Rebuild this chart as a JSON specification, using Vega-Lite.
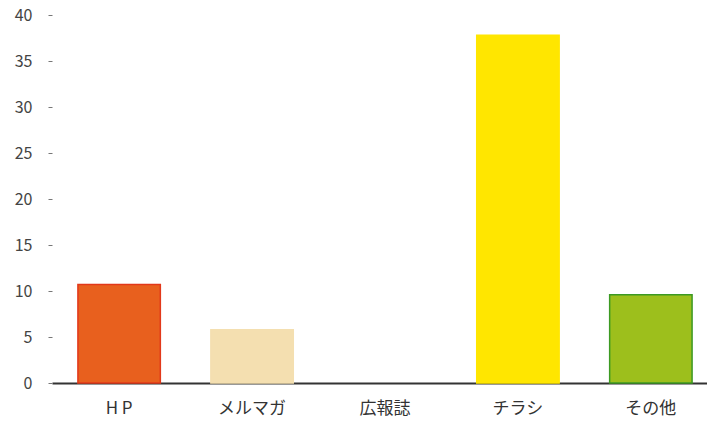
{
  "$schema": "https://vega.github.io/schema/vega-lite/v6.json",
  "autosize": {"type": "none"},
  "padding": {"left": 52, "top": 15, "right": 0, "bottom": 39},
  "width": 655,
  "height": 368,
  "background": "#ffffff",
  "config": {"view": {"stroke": null}, "font": "Noto Sans CJK JP"},
  "data": {"values": [
    {"category": "H P", "value": 10.7, "color": "#e8601e", "border": "#e2381a"},
    {"category": "メルマガ", "value": 5.8, "color": "#f4dfb0", "border": "#f4dfb0"},
    {"category": "広報誌", "value": 0, "color": "transparent", "border": "transparent"},
    {"category": "チラシ", "value": 37.8, "color": "#ffe600", "border": "#ffe600"},
    {"category": "その他", "value": 9.6, "color": "#9dbf1c", "border": "#3c9a22"}
  ]},
  "mark": {"type": "bar", "strokeWidth": 1.5, "y2Offset": -3},
  "encoding": {
    "x": {
      "field": "category", "type": "nominal", "sort": null,
      "scale": {"paddingInner": 0.38, "paddingOuter": 0.195, "range": [0, 666]},
      "axis": {"title": null, "labelAngle": 0, "ticks": false, "domainColor": "#333333", "domainWidth": 2, "labelFontSize": 17, "labelColor": "#333333", "labelPadding": 17, "labelFont": "Noto Sans CJK JP"}
    },
    "y": {
      "field": "value", "type": "quantitative",
      "scale": {"domain": [0, 40], "nice": false},
      "axis": {"title": null, "values": [0, 5, 10, 15, 20, 25, 30, 35, 40], "grid": false, "domain": false, "ticks": true, "tickSize": 4, "tickColor": "#777777", "labelFontSize": 16, "labelColor": "#444444", "labelPadding": 16, "labelFont": "Noto Sans CJK JP"}
    },
    "fill": {"field": "color", "type": "nominal", "scale": null, "legend": null},
    "stroke": {"field": "border", "type": "nominal", "scale": null, "legend": null}
  }
}
